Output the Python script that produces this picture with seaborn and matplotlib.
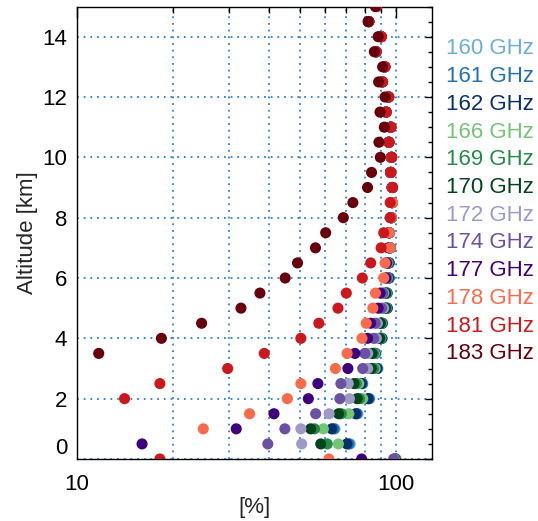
import numpy as np
import pandas as pd
import matplotlib
matplotlib.use("Agg")
import matplotlib.pyplot as plt
from matplotlib.ticker import LogLocator, FixedLocator, MultipleLocator, NullFormatter, FuncFormatter
import seaborn as sns

# Altitude levels [km]
altitude = [0.0, 0.5, 1.0, 1.5, 2.0, 2.5, 3.0, 3.5, 4.0, 4.5, 5.0, 5.5, 6.0, 6.5, 7.0, 7.5,
            8.0, 8.5, 9.0, 9.5, 10.0, 10.5, 11.0, 11.5, 12.0, 12.5, 13.0, 13.5, 14.0, 14.5, 15.0]

# Channel labels (GHz) and colours
channels = ["160 GHz", "161 GHz", "162 GHz", "166 GHz", "169 GHz", "170 GHz",
            "172 GHz", "174 GHz", "177 GHz", "178 GHz", "181 GHz", "183 GHz"]
colors = ["#6baed6", "#2171b5", "#08306b", "#74c476", "#238b45", "#00441b",
          "#9e9ac8", "#6a51a3", "#3f007d", "#fb6a4a", "#cb181d", "#67000d"]

nan = np.nan
# Percentage per altitude level for each channel
ch160 = [100.0, 72.0, 64.5, 76.1, 82.9, 78.9, 88.0, 86.8, 90.8, 91.0, 94.2, 94.2, 95.5, 95.5, 96.3, 95.6,
         97.0, 97.6, 97.6, 96.4, 97.0, 95.2, 96.5, 93.3, 95.0, 90.8, 92.4, 86.8, 90.0, 82.3, 86.8]
ch161 = [100.0, 71.3, 64.0, 75.6, 82.5, 78.6, 87.6, 86.4, 90.6, 90.8, 94.1, 94.0, 95.4, 95.4, 96.2, 95.6,
         97.0, 97.6, 97.6, 96.4, 97.0, 95.2, 96.5, 93.3, 95.0, 90.8, 92.4, 86.8, 90.0, 82.3, 86.8]
ch162 = [100.0, 70.3, 63.0, 74.9, 81.9, 78.1, 87.2, 86.0, 90.3, 90.6, 94.0, 93.8, 95.3, 95.3, 96.1, 95.5,
         97.0, 97.5, 97.6, 96.4, 97.0, 95.2, 96.5, 93.3, 95.0, 90.8, 92.4, 86.8, 90.0, 82.3, 86.8]
ch166 = [100.0, 66.1, 59.3, 71.3, 78.8, 76.6, 86.2, 85.8, 89.8, 90.2, 93.5, 93.5, 95.0, 95.0, 96.0, 95.5,
         97.0, 97.5, 97.6, 96.4, 97.0, 95.2, 96.5, 93.3, 95.0, 90.8, 92.4, 86.8, 90.0, 82.3, 86.8]
ch169 = [99.7, 61.0, 55.6, 67.5, 77.0, 75.2, 85.2, 85.2, 89.4, 89.9, 93.2, 93.2, 95.0, 95.0, 96.0, 95.5,
         97.0, 97.5, 97.6, 96.4, 97.0, 95.2, 96.5, 93.3, 95.0, 90.8, 92.4, 86.8, 90.0, 82.3, 86.8]
ch170 = [99.5, 58.2, 54.1, 66.2, 75.7, 74.0, 83.8, 84.3, 89.1, 89.6, 93.0, 93.0, 94.8, 95.0, 96.0, 95.5,
         97.0, 97.5, 97.6, 96.4, 97.0, 95.2, 96.5, 93.3, 95.0, 90.8, 92.4, 86.8, 90.0, 82.3, 86.8]
ch172 = [99.0, 50.7, 50.4, 61.8, 71.6, 71.0, 81.7, 81.7, 87.0, 87.6, 91.7, 91.7, 94.2, 94.5, 95.8, 95.5,
         97.0, 97.5, 97.6, 96.4, 97.0, 95.2, 96.5, 93.3, 95.0, 90.8, 92.4, 86.8, 90.0, 82.3, 86.8]
ch174 = [98.5, 39.7, 44.9, 56.1, 66.8, 67.3, 78.8, 80.0, 85.3, 86.2, 90.3, 91.0, 93.8, 94.0, 95.5, 95.2,
         96.8, 97.3, 97.5, 96.4, 97.0, 95.2, 96.5, 93.3, 95.0, 90.8, 92.4, 86.8, 90.0, 82.3, 86.8]
ch177 = [78.2, 16.0, 31.6, 41.5, 53.2, 57.0, 70.8, 74.5, 81.6, 83.4, 88.1, 89.3, 93.0, 93.5, 95.0, 95.0,
         96.5, 97.0, 97.3, 96.3, 96.8, 95.0, 96.3, 93.0, 94.8, 90.6, 92.2, 86.6, 89.8, 82.2, 86.6]
ch178 = [61.7, nan, 24.9, 34.8, 45.7, 50.4, 64.7, 70.4, 78.4, 80.8, 84.8, 86.4, 91.7, 92.6, 96.1, 95.4,
         97.0, 97.8, 97.5, 96.5, 97.0, 95.2, 96.5, 93.3, 95.0, 90.8, 92.4, 86.8, 90.0, 82.4, 86.8]
ch181 = [18.2, nan, nan, nan, 14.1, 18.2, 29.7, 38.7, 50.4, 57.4, 65.9, 70.0, 78.6, 83.5, 90.0, 91.7,
         96.1, 96.1, 97.8, 96.6, 97.2, 95.4, 96.7, 93.5, 95.2, 91.0, 92.6, 87.0, 90.3, 82.5, 87.0]
ch183 = [nan, nan, nan, nan, nan, nan, nan, 11.7, 18.4, 24.6, 32.7, 37.5, 45.0, 49.2, 56.0, 60.3,
         68.5, 73.4, 81.6, 84.0, 89.5, 88.6, 92.1, 89.3, 92.6, 88.4, 91.0, 85.7, 88.1, 81.9, 86.4]

series = [ch160, ch161, ch162, ch166, ch169, ch170, ch172, ch174, ch177, ch178, ch181, ch183]

frames = []
for name, vals in zip(channels, series):
    frames.append(pd.DataFrame({"channel": name, "altitude": altitude, "percent": vals}))
df = pd.concat(frames, ignore_index=True).dropna()

sns.set_style("white")
plt.rcParams["font.family"] = ["Liberation Sans", "DejaVu Sans"]
plt.rcParams["font.size"] = 16

W, H = 538, 521
fig = plt.figure(figsize=(W / 100, H / 100), dpi=100)
ax = fig.add_axes([77 / W, 1 - 459 / H, (432 - 77) / W, (459 - 6.5) / H])

palette = dict(zip(channels, colors))
sns.scatterplot(data=df, x="percent", y="altitude", hue="channel", hue_order=channels,
                palette=palette, s=64, linewidth=0, alpha=1.0, legend=False, ax=ax, zorder=3)

ax.set_xscale("log")
ax.set_xlim(10, 130)
ax.set_ylim(0, 15)

ax.xaxis.set_major_locator(FixedLocator([10, 100]))
ax.xaxis.set_major_formatter(FuncFormatter(lambda v, p: f"{v:g}"))
ax.xaxis.set_minor_locator(LogLocator(base=10, subs=np.arange(2, 10)))
ax.xaxis.set_minor_formatter(NullFormatter())
ax.yaxis.set_major_locator(FixedLocator(np.arange(0, 15, 2)))
ax.yaxis.set_minor_locator(MultipleLocator(0.5))

grid_kw = dict(color="#2a7fd6", linestyle=(0, (1, 2.7)), linewidth=1.3)
ax.grid(True, which="both", axis="x", **grid_kw)
ax.grid(True, which="major", axis="y", **grid_kw)
ax.set_axisbelow(True)

ax.tick_params(which="both", direction="in", top=True, right=True, colors="black",
               labelsize=16)
ax.tick_params(axis="x", which="major", length=8, width=1, pad=11)
ax.tick_params(axis="x", which="minor", length=4, width=1)
ax.tick_params(axis="y", which="major", length=5, width=1, pad=7)
ax.tick_params(axis="y", which="minor", length=3, width=1)
for sp in ax.spines.values():
    sp.set_color("black")
    sp.set_linewidth(1.0)

ax.set_xlabel("[%]", fontsize=16, labelpad=1)
ax.set_ylabel("Altitude [km]", fontsize=16, labelpad=3)

# Lift the "0" altitude label so it sits above the bottom axis
fig.canvas.draw()
ax.yaxis.get_major_ticks()[0].label1.set_verticalalignment("bottom")

# Channel key on the right-hand side
y0, dy = 49, 27.7
for i, (name, c) in enumerate(zip(channels, colors)):
    fig.text(446 / W, 1 - (y0 + i * dy) / H, name, color=c, fontsize=16,
             ha="left", va="center")

fig.savefig("out.png", dpi=100, facecolor="white")
